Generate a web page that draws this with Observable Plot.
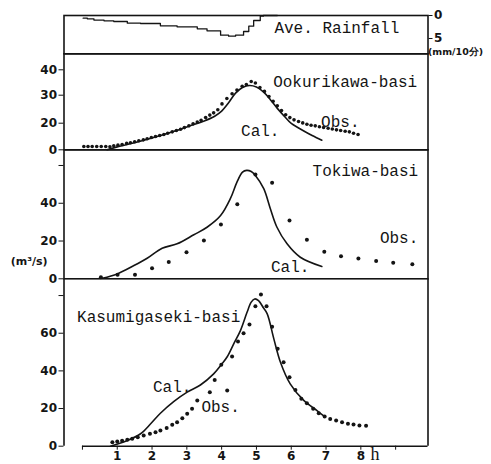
<!DOCTYPE html>
<html><head><meta charset="utf-8">
<script src="https://cdn.jsdelivr.net/npm/d3@7"></script>
<script src="https://cdn.jsdelivr.net/npm/@observablehq/plot@0.6"></script>
<style>
body{margin:0;background:#fff;}
#chart{position:relative;width:491px;height:464px;}
#chart svg{position:absolute;left:0;top:0;}
</style></head><body><div id="chart"></div>
<script>
// ---- Average rainfall (mm/10min), step series ----
const rainT = [0.02, 0.14, 0.33, 0.62, 0.90, 1.29, 1.67, 2.24, 2.72, 3.30, 3.58, 3.97, 4.20, 4.40, 4.63, 4.78, 4.92, 5.11, 5.20, 5.60];
const rainV = [0.58, 0.72, 1.00, 1.16, 1.30, 1.67, 1.74, 2.25, 2.46, 2.90, 3.33, 4.28, 4.49, 4.28, 3.48, 2.32, 1.09, 0.14, 0, 0];

// ---- Ookurikawa-basi ----
const ookObsH = [0.04,0.16,0.28,0.41,0.54,0.67,0.79,0.90,1.02,1.14,1.27,1.38,1.50,1.62,1.75,1.86,1.98,2.10,2.22,2.34,2.45,2.58,2.70,2.82,2.93,3.06,3.18,3.30,3.41,3.54,3.66,3.77,3.89,4.01,4.15,4.30,4.44,4.59,4.71,4.85,4.97,5.10,5.23,5.36,5.48,5.60,5.72,5.84,5.96,6.08,6.21,6.33,6.45,6.57,6.69,6.81,6.93,7.06,7.18,7.30,7.42,7.55,7.67,7.79,7.92];
const ookObsV = [2.5,2.5,2.5,2.5,2.5,2.5,2.2,3.0,3.5,4.0,4.8,5.3,6.0,6.8,7.5,8.3,9.3,10.0,10.8,11.5,12.5,13.5,14.5,15.5,16.7,18.0,19.5,20.4,21.0,22.0,22.9,23.7,24.8,26.9,28.8,30.6,32.0,33.5,34.2,35.4,34.8,33.0,31.5,29.5,27.8,26.2,24.5,23.0,22.0,21.2,20.6,20.1,19.2,18.5,18.0,17.3,16.8,16.2,15.6,15.0,14.5,14.0,13.5,12.5,11.5];
const ookCalH = [0.71,1.0,1.5,2.0,2.5,3.0,3.5,3.8,4.0,4.2,4.4,4.6,4.8,5.0,5.2,5.4,5.6,5.8,6.0,6.2,6.4,6.6,6.88];
const ookCalV = [0,2.2,5.3,8.8,12.8,17.2,20.8,22.5,24.3,27.3,30.8,33.0,33.8,33.2,31.3,28.4,25.3,22.5,19.8,16.6,13.6,10.8,7.2];

// ---- Tokiwa-basi ----
const tokObsH = [0.53,1.01,1.51,2.0,2.48,2.99,3.49,3.98,4.45,4.97,5.45,5.95,6.45,6.95,7.43,7.93,8.44,8.93,9.48];
const tokObsV = [0.85,2.1,2.2,5.6,8.9,14.0,20.3,28.7,39.5,55.2,50.8,30.9,20.7,14.3,12.0,10.7,9.4,8.5,7.7];
const tokCalH = [0.57,1.0,1.48,1.86,2.29,2.72,3.2,3.58,3.97,4.25,4.44,4.6,4.72,4.85,4.97,5.21,5.40,5.59,5.88,6.26,6.88];
const tokCalV = [0.3,2.6,7.0,10.9,16.2,18.5,23.3,27.3,33.5,42.4,51.2,56.5,57.4,56.8,54.7,47.7,37.1,27.3,18.5,11.4,6.5];

// ---- Kasumigaseki-basi ----
const kasObsH = [0.86,1.0,1.14,1.29,1.43,1.59,1.76,1.94,2.10,2.24,2.42,2.58,2.72,2.87,3.01,3.15,3.30,3.66,3.80,3.99,4.16,4.30,4.47,4.63,4.80,4.97,5.13,5.29,5.45,5.61,5.78,5.95,6.12,6.29,6.45,6.63,6.79,6.96,7.12,7.29,7.46,7.63,7.79,7.96,8.15];
const kasObsV = [2.1,2.5,2.9,3.4,3.9,4.8,5.7,6.6,7.4,8.3,9.6,11.4,12.7,14.9,17.2,19.9,24.3,28.7,35.2,43.2,29.6,47.6,55.6,60.0,64.6,74.3,80.5,74.3,63.5,51.7,44.6,36.6,29.9,25.2,22.8,19.9,17.5,15.8,14.5,13.6,12.7,11.9,11.5,11.0,10.8];
const kasCalH = [0.81,1.29,1.67,1.96,2.24,2.63,3.01,3.39,3.77,4.0,4.16,4.35,4.54,4.73,4.85,4.95,5.06,5.2,5.31,5.50,5.69,5.97,6.36,6.74,6.98];
const kasCalV = [0,3.0,6.6,11.9,17.5,23.8,28.7,32.5,38.4,43.5,47.5,54.5,61.4,71.1,76.5,78.2,77.3,73.5,70.3,57.0,44.6,33.1,24.3,18.9,15.4];

// ---- axis ticks ----
const hourTicks = [0,1,2,3,4,5,6,7,8,9];
const ookTicks = [0,20,30,40];
const tokTicks = [0,20,40,60];
const kasTicks = [0,20,40,60,80];
const rainTicks = [0,5];

const zip = (h, v) => h.map((d, i) => ({h: d, v: v[i]}));
const rain = zip(rainT, rainV);
const ookObs = zip(ookObsH, ookObsV), ookCal = zip(ookCalH, ookCalV);
const tokObs = zip(tokObsH, tokObsV), tokCal = zip(tokCalH, tokCalV);
const kasObs = zip(kasObsH, kasObsV), kasCal = zip(kasCalH, kasCalV);

// The Ookurikawa axis of the original is unevenly graduated (0-20 compressed);
// warp maps its values onto an evenly spaced display axis.
const ookWarp = d3.scaleLinear().domain([0, 20, 30, 40]).range([0, 13.3, 27.3, 40]);

const W = 491, H = 464;
const xDomain = [-0.53, 9.93];
const ink = "#141414";
const mono = "Liberation Mono";
const base = {
  width: W, height: H, marginLeft: 63.5, marginRight: 63.5,
  style: {background: "transparent", color: ink, fontFamily: "DejaVu Sans", fontSize: "12px", fontWeight: "bold", overflow: "visible"}
};
const noX = {domain: xDomain, axis: null};
const lbl = (arr, extra = {}) => Plot.text(arr, {x: "h", y: "v", text: "t", fontFamily: mono, fontSize: 16, fontWeight: "normal", fill: ink, ...extra});
const lineOpts = {x: "h", y: "v", stroke: ink, strokeWidth: 1.6, curve: "catmull-rom"};
const dotOpts = (r) => ({x: "h", y: "v", r, fill: ink, stroke: "none"});

const chart = document.getElementById("chart");

// Rainfall panel
chart.append(Plot.plot({
  ...base, marginTop: 15, marginBottom: H - 53.3,
  x: noX,
  y: {domain: [0, 8.33], reverse: true, axis: "right", ticks: rainTicks, tickSize: 4, tickPadding: 2, label: null},
  marks: [
    Plot.frame({stroke: ink, strokeWidth: 1.6}),
    Plot.line(rain, {x: "h", y: "v", curve: "step-after", stroke: ink, strokeWidth: 1.3}),
    lbl([{h: 7.31, v: 2.8, t: "Ave. Rainfall"}]),
    Plot.text([{h: 10.72, v: 8.0, t: "(mm/10分)"}], {x: "h", y: "v", text: "t", fontSize: 9.5, fontWeight: "bold", fill: ink})
  ]
}));

// Ookurikawa-basi
chart.append(Plot.plot({
  ...base, marginTop: 53.3, marginBottom: H - 149.3,
  x: noX,
  y: {domain: [0, 48], ticks: ookTicks.map(ookWarp), tickFormat: d => Math.round(ookWarp.invert(d)), tickSize: 5, tickPadding: 2, label: null},
  marks: [
    Plot.frame({stroke: ink, strokeWidth: 1.6}),
    Plot.line(ookCal, {...lineOpts, y: d => ookWarp(d.v)}),
    Plot.dot(ookObs, {...dotOpts(1.8), y: d => ookWarp(d.v)}),
    lbl([{h: 7.55, v: 34.2, t: "Ookurikawa-basi"}, {h: 7.41, v: 14.0, t: "Obs."}, {h: 5.11, v: 9.3, t: "Cal."}])
  ]
}));

// Tokiwa-basi
chart.append(Plot.plot({
  ...base, marginTop: 149.3, marginBottom: H - 278.3,
  x: noX,
  y: {domain: [0, 68.3], ticks: tokTicks, tickFormat: d => d === 60 ? "" : d, tickSize: 5, tickPadding: 2, label: null},
  marks: [
    Plot.frame({stroke: ink, strokeWidth: 1.6}),
    Plot.line(tokCal, lineOpts),
    Plot.dot(tokObs, dotOpts(2)),
    lbl([{h: 8.13, v: 57.4, t: "Tokiwa-basi"}, {h: 9.1, v: 21.7, t: "Obs."}, {h: 5.97, v: 6.1, t: "Cal."}]),
    Plot.text([{h: -1.53, v: 9.2, t: "(m³/s)"}], {x: "h", y: "v", text: "t", fontSize: 11, fontWeight: "bold", fill: ink})
  ]
}));

// Kasumigaseki-basi
chart.append(Plot.plot({
  ...base, marginTop: 278.3, marginBottom: H - 445.7,
  x: {domain: xDomain, ticks: hourTicks, tickFormat: d => (d >= 1 && d <= 8) ? d : "", tickSize: 4, tickPadding: 1, label: null},
  y: {domain: [0, 88.9], ticks: kasTicks, tickFormat: d => d === 80 ? "" : d, tickSize: 5, tickPadding: 2, label: null},
  marks: [
    Plot.ruleX(xDomain, {stroke: ink, strokeWidth: 1.6}),
    Plot.ruleY([{y: 0, a: 0, b: xDomain[1]}], {y: "y", x1: "a", x2: "b", stroke: ink, strokeWidth: 1.6}),
    Plot.line(kasCal, lineOpts),
    Plot.dot(kasObs, dotOpts(2)),
    lbl([{h: 2.19, v: 68.5, t: "Kasumigaseki-basi"}, {h: 2.58, v: 31.7, t: "Cal."}, {h: 3.97, v: 20.7, t: "Obs."}]),
    Plot.text([{h: 8.41, v: -4.4, t: "h"}], {x: "h", y: "v", text: "t", fontFamily: "Liberation Serif", fontSize: 18, fontWeight: "normal", fill: ink})
  ]
}));
</script></body></html>
